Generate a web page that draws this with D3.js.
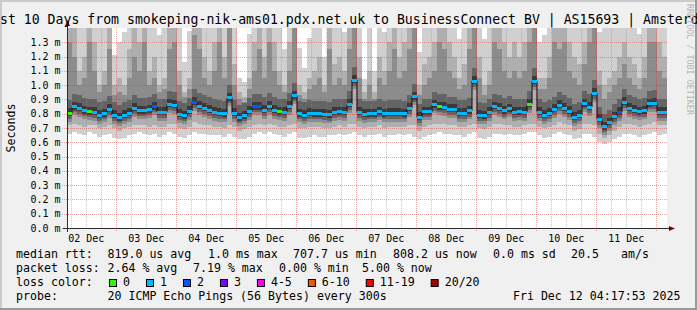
<!DOCTYPE html>
<html>
<head>
<meta charset="utf-8">
<script src="https://cdn.jsdelivr.net/npm/d3@7"></script>
<style>
  body { margin: 0; background: #f0f0f0; }
  svg { display: block; font-family: "DejaVu Sans Mono", monospace; }
</style>
</head>
<body>
<svg id="chart" width="697" height="310"></svg>
<script>
// ---- data, one column every 2 hours ----
const startTime = Date.UTC(2025, 11, 2, 4, 17, 53);
const stepMs = 2 * 3600 * 1000;

// median rtt in ms
const median = [
  0.803, 0.849, 0.838, 0.821, 0.814, 0.810, 0.789, 0.800, 0.833, 0.791,
  0.772, 0.790, 0.805, 0.838, 0.821, 0.821, 0.828, 0.849, 0.810, 0.810,
  0.866, 0.861, 0.796, 0.786, 0.819, 0.880, 0.854, 0.838, 0.824, 0.810,
  0.805, 0.800, 0.912, 0.803, 0.772, 0.786, 0.819, 0.849, 0.849, 0.824,
  0.854, 0.826, 0.814, 0.810, 0.854, 0.926, 0.800, 0.790, 0.805, 0.800,
  0.800, 0.796, 0.792, 0.812, 0.814, 0.810, 0.866, 1.036, 0.810, 0.796,
  0.800, 0.800, 0.814, 0.800, 0.805, 0.805, 0.805, 0.800, 0.840, 0.919,
  0.775, 0.814, 0.814, 0.862, 0.849, 0.845, 0.830, 0.830, 0.805, 0.805,
  0.820, 1.029, 0.790, 0.786, 0.810, 0.850, 0.840, 0.820, 0.835, 0.810,
  0.814, 0.810, 0.866, 1.029, 0.810, 0.791, 0.805, 0.830, 0.859, 0.840,
  0.819, 0.775, 0.790, 0.870, 0.847, 0.943, 0.760, 0.709, 0.738, 0.780,
  0.810, 0.880, 0.838, 0.826, 0.814, 0.820, 0.870, 0.874, 0.810, 0.810
];

// lost pings out of 20
const lost = [
  0, 1, 1, 1, 0, 1, 1, 1, 1, 1,
  1, 1, 1, 1, 1, 1, 1, 2, 1, 1,
  1, 1, 1, 1, 1, 2, 1, 1, 1, 1,
  1, 1, 1, 1, 1, 1, 1, 2, 2, 1,
  1, 1, 0, 1, 1, 1, 1, 1, 1, 1,
  1, 1, 1, 1, 1, 1, 1, 1, 1, 1,
  1, 1, 1, 1, 1, 1, 1, 1, 1, 1,
  1, 1, 1, 1, 0, 1, 1, 1, 1, 1,
  1, 1, 1, 1, 1, 1, 1, 1, 1, 1,
  1, 1, 0, 1, 1, 1, 1, 1, 1, 1,
  1, 1, 1, 1, 1, 1, 1, 1, 1, 1,
  2, 1, 1, 1, 1, 1, 1, 1, 1, 1
];

// smoke: slowest ping (1.5 = above the top of the graph)
const smokeMax = [
  1.50, 1.50, 1.50, 1.50, 1.50, 1.50, 1.50, 1.50, 1.50, 1.21,
  1.30, 1.37, 1.50, 1.50, 1.50, 1.50, 1.50, 1.50, 1.35, 1.50,
  1.50, 1.50, 1.50, 1.16, 1.38, 1.50, 1.50, 1.50, 1.50, 1.50,
  1.50, 1.50, 1.50, 1.50, 1.05, 1.02, 1.36, 1.50, 1.50, 1.50,
  1.50, 1.50, 1.50, 1.25, 1.50, 1.50, 1.26, 1.12, 1.33, 1.50,
  1.50, 1.20, 1.50, 1.50, 1.50, 1.37, 1.50, 1.50, 1.50, 1.04,
  1.50, 1.10, 1.50, 1.37, 1.50, 1.50, 1.50, 1.50, 1.50, 1.50,
  1.23, 1.50, 1.50, 1.50, 1.50, 1.50, 1.50, 1.50, 1.32, 1.50,
  1.50, 1.50, 1.50, 1.32, 1.50, 1.50, 1.50, 1.50, 1.50, 1.50,
  1.50, 1.50, 1.50, 1.50, 1.30, 1.35, 1.50, 1.50, 1.50, 1.50,
  1.50, 1.50, 1.50, 1.50, 1.50, 1.50, 1.37, 1.50, 1.50, 1.50,
  1.50, 1.50, 1.50, 1.50, 1.36, 1.50, 1.50, 1.50, 1.50, 1.50
];
// smoke: upper edge of the medium grey
const smokeHigh = [
  1.45, 1.45, 1.10, 1.20, 1.45, 1.30, 1.00, 1.10, 1.45, 1.00,
  1.05, 1.00, 1.25, 1.45, 1.30, 1.45, 1.10, 1.20, 1.00, 1.05,
  1.45, 1.45, 1.10, 0.95, 1.05, 1.45, 1.45, 1.20, 1.10, 1.30,
  1.45, 1.20, 1.45, 1.15, 0.95, 0.92, 1.05, 1.30, 1.45, 1.20,
  1.45, 1.30, 1.10, 1.00, 1.30, 1.45, 1.00, 0.95, 1.05, 1.10,
  1.20, 1.00, 1.45, 1.15, 1.20, 1.10, 1.45, 1.45, 1.20, 0.95,
  1.10, 0.95, 1.20, 1.10, 1.30, 1.45, 1.20, 1.30, 1.45, 1.45,
  1.00, 1.15, 1.20, 1.30, 1.45, 1.45, 1.30, 1.20, 1.05, 1.15,
  1.45, 1.45, 1.20, 1.00, 1.10, 1.45, 1.45, 1.30, 1.20, 1.30,
  1.20, 1.30, 1.45, 1.45, 1.05, 1.05, 1.20, 1.45, 1.45, 1.45,
  1.30, 1.20, 1.15, 1.30, 1.45, 1.45, 1.10, 1.00, 1.05, 1.10,
  1.20, 1.30, 1.20, 1.15, 1.05, 1.20, 1.45, 1.45, 1.30, 1.20
];
// smoke: upper edge of the dark grey
const smokeMid = [
  1.30, 1.20, 1.00, 1.05, 1.30, 1.10, 0.95, 1.00, 1.25, 0.93,
  0.95, 0.93, 1.05, 1.20, 1.10, 1.30, 1.00, 1.05, 0.95, 0.97,
  1.25, 1.30, 1.00, 0.92, 0.97, 1.35, 1.25, 1.05, 1.00, 1.10,
  1.30, 1.05, 1.45, 1.00, 0.90, 0.88, 0.97, 1.10, 1.25, 1.05,
  1.30, 1.10, 1.00, 0.95, 1.10, 1.45, 0.93, 0.90, 0.97, 1.00,
  1.05, 0.95, 1.25, 1.00, 1.05, 1.00, 1.25, 1.45, 1.05, 0.90,
  1.00, 0.90, 1.05, 1.00, 1.10, 1.25, 1.05, 1.10, 1.25, 1.45,
  0.93, 1.00, 1.05, 1.10, 1.30, 1.25, 1.10, 1.05, 0.97, 1.00,
  1.25, 1.45, 1.05, 0.93, 1.00, 1.30, 1.25, 1.10, 1.05, 1.10,
  1.05, 1.10, 1.30, 1.45, 0.97, 0.97, 1.05, 1.30, 1.25, 1.30,
  1.10, 1.05, 1.00, 1.15, 1.30, 1.45, 1.00, 0.90, 0.95, 1.00,
  1.05, 1.15, 1.05, 1.00, 0.97, 1.05, 1.30, 1.30, 1.10, 1.05
];
// smoke: lower edge of the medium grey
const smokeLow = [
  0.72, 0.73, 0.72, 0.71, 0.72, 0.72, 0.70, 0.71, 0.72, 0.70,
  0.68, 0.70, 0.71, 0.72, 0.72, 0.72, 0.71, 0.72, 0.71, 0.71,
  0.73, 0.73, 0.70, 0.69, 0.71, 0.74, 0.73, 0.72, 0.72, 0.71,
  0.71, 0.70, 0.72, 0.71, 0.68, 0.69, 0.71, 0.72, 0.73, 0.72,
  0.73, 0.72, 0.71, 0.71, 0.72, 0.73, 0.70, 0.70, 0.71, 0.71,
  0.71, 0.70, 0.70, 0.71, 0.72, 0.71, 0.73, 0.73, 0.71, 0.70,
  0.71, 0.71, 0.72, 0.70, 0.71, 0.71, 0.71, 0.71, 0.72, 0.72,
  0.68, 0.71, 0.72, 0.73, 0.73, 0.73, 0.72, 0.72, 0.71, 0.71,
  0.72, 0.73, 0.70, 0.69, 0.71, 0.73, 0.73, 0.72, 0.72, 0.71,
  0.71, 0.72, 0.73, 0.73, 0.71, 0.70, 0.71, 0.72, 0.74, 0.73,
  0.72, 0.68, 0.69, 0.73, 0.73, 0.72, 0.66, 0.63, 0.65, 0.68,
  0.71, 0.73, 0.73, 0.72, 0.71, 0.72, 0.73, 0.74, 0.72, 0.72
];
// smoke: fastest ping
const smokeMin = [
  0.66, 0.67, 0.66, 0.65, 0.67, 0.66, 0.64, 0.65, 0.66, 0.63,
  0.62, 0.63, 0.65, 0.66, 0.67, 0.66, 0.65, 0.66, 0.64, 0.65,
  0.67, 0.66, 0.64, 0.63, 0.65, 0.67, 0.66, 0.66, 0.65, 0.65,
  0.65, 0.64, 0.66, 0.64, 0.62, 0.62, 0.64, 0.66, 0.67, 0.66,
  0.67, 0.66, 0.65, 0.64, 0.66, 0.67, 0.63, 0.63, 0.64, 0.65,
  0.64, 0.64, 0.65, 0.65, 0.66, 0.65, 0.66, 0.67, 0.65, 0.64,
  0.65, 0.65, 0.66, 0.64, 0.65, 0.65, 0.66, 0.65, 0.66, 0.64,
  0.62, 0.64, 0.65, 0.66, 0.67, 0.66, 0.66, 0.65, 0.65, 0.64,
  0.66, 0.67, 0.63, 0.62, 0.64, 0.66, 0.66, 0.65, 0.66, 0.65,
  0.65, 0.66, 0.67, 0.67, 0.65, 0.63, 0.64, 0.66, 0.67, 0.66,
  0.65, 0.62, 0.63, 0.66, 0.66, 0.64, 0.60, 0.59, 0.60, 0.62,
  0.64, 0.66, 0.66, 0.65, 0.64, 0.65, 0.66, 0.67, 0.65, 0.66
];

const yTicks = [0.0, 0.1, 0.2, 0.3, 0.4, 0.5, 0.6, 0.7, 0.8, 0.9, 1.0, 1.1, 1.2, 1.3];

const lossLabels = ["0", "1", "2", "3", "4-5", "6-10", "11-19", "20/20"];
const lossColors = ["#26ff00", "#00b8ff", "#0059ff", "#7e00ff", "#ff00ff", "#ff5500", "#ff0000", "#a00000"];

const title = "Last 10 Days from smokeping-nik-ams01.pdx.net.uk to BusinessConnect BV | AS15693 | Amsterdam";
const legendRows = [
  [[16, "median rtt:"], [107.5, "819.0 us avg"], [208, "1.0 ms max"], [293, "707.7 us min"],
   [393, "808.2 us now"], [493, "0.0 ms sd"], [571, "20.5"], [621, "am/s"]],
  [[16, "packet loss:"], [107.5, "2.64 % avg"], [193, "7.19 % max"], [279, "0.00 % min"], [362, "5.00 % now"]],
  [[16, "loss color:"]],
  [[16, "probe:"], [107.5, "20 ICMP Echo Pings (56 Bytes) every 300s"]]
];
const stamp = "Fri Dec 12 04:17:53 2025";

// ---- layout ----
const width = 697, height = 310;
const plot = { left: 67, right: 667, top: 28, bottom: 228 };

const svg = d3.select("#chart");

const times = median.map((d, i) => new Date(startTime + i * stepMs));

const x = d3.scaleUtc()
  .domain([new Date(startTime), new Date(startTime + 10 * 24 * 3600 * 1000)])
  .range([plot.left, plot.right]);
const y = d3.scaleLinear().domain([0, 1.4]).range([plot.bottom, plot.top]);

// background + 3d frame
svg.append("rect").attr("width", width).attr("height", height).attr("fill", "#f0f0f0");
svg.append("path").attr("fill", "#cbcbcb")
  .attr("d", `M0,0H${width}V2H2V${height}H0Z`);
svg.append("path").attr("fill", "#999999")
  .attr("d", `M${width},${height}H0V${height - 2}H${width - 2}V0H${width}Z`);

// canvas
svg.append("rect")
  .attr("x", plot.left).attr("y", plot.top)
  .attr("width", plot.right - plot.left).attr("height", plot.bottom - plot.top)
  .attr("fill", "#ffffff");

svg.append("clipPath").attr("id", "clip")
  .append("rect")
  .attr("x", plot.left).attr("y", plot.top)
  .attr("width", plot.right - plot.left).attr("height", plot.bottom - plot.top);

const cols = d3.range(median.length);
const colX = i => x(times[i]);
const colW = i => x(new Date(+times[i] + stepMs)) - x(times[i]);

// smoke bands, lightest first
const smoke = svg.append("g").attr("clip-path", "url(#clip)").attr("shape-rendering", "crispEdges");
function band(lo, hi, color) {
  smoke.append("g").selectAll("rect")
    .data(cols)
    .join("rect")
    .attr("x", colX)
    .attr("width", colW)
    .attr("y", i => y(Math.min(hi(i), 1.45)))
    .attr("height", i => Math.max(0, y(lo(i)) - y(Math.min(hi(i), 1.45))))
    .attr("fill", color);
}
band(i => smokeMin[i], i => smokeMax[i], "#d0d0d0");
band(i => smokeLow[i], i => smokeHigh[i], "#afafaf");
band(i => median[i] - 0.06, i => smokeMid[i], "#8c8c8c");
band(i => median[i] - 0.04, i => median[i] + 0.09, "#646464");
band(i => median[i] - 0.02, i => median[i] + 0.035, "#3a3a3a");

// grid (drawn over the smoke like rrdtool)
const grid = svg.append("g").attr("fill", "none");
const minorTimes = x.ticks(d3.utcHour.every(6)).filter(t => t.getUTCHours() !== 0);
const majorTimes = x.ticks(d3.utcDay.every(1));

grid.selectAll(".minor")
  .data(minorTimes)
  .join("line")
  .attr("x1", d => Math.round(x(d)) + 0.5).attr("x2", d => Math.round(x(d)) + 0.5)
  .attr("y1", plot.top).attr("y2", plot.bottom + 2)
  .attr("stroke", "#8f8f8f").attr("stroke-opacity", 0.5)
  .attr("stroke-dasharray", "1,1");

grid.selectAll(".majorx")
  .data(majorTimes)
  .join("line")
  .attr("x1", d => Math.round(x(d)) + 0.5).attr("x2", d => Math.round(x(d)) + 0.5)
  .attr("y1", plot.top).attr("y2", plot.bottom + 3)
  .attr("stroke", "#d02a2a").attr("stroke-opacity", 0.42)
  .attr("stroke-dasharray", "1,1");

grid.selectAll(".majory")
  .data(yTicks)
  .join("line")
  .attr("x1", plot.left - 5).attr("x2", plot.right)
  .attr("y1", d => Math.round(y(d)) + 0.5).attr("y2", d => Math.round(y(d)) + 0.5)
  .attr("stroke", "#d02a2a").attr("stroke-opacity", 0.42)
  .attr("stroke-dasharray", "1,1");

// median line: dark step line, then segments coloured by loss
const pts = cols.map(i => [colX(i), y(median[i])]);
pts.push([plot.right, y(median[median.length - 1])]);
svg.append("path")
  .attr("clip-path", "url(#clip)")
  .attr("d", d3.line().curve(d3.curveStepAfter)(pts))
  .attr("fill", "none").attr("stroke", "#111").attr("stroke-width", 1);

const lossIndex = n => n === 0 ? 0 : n === 1 ? 1 : n === 2 ? 2 : n === 3 ? 3 :
  n <= 5 ? 4 : n <= 10 ? 5 : n <= 19 ? 6 : 7;

svg.append("g").attr("clip-path", "url(#clip)").attr("shape-rendering", "crispEdges")
  .selectAll("rect")
  .data(cols)
  .join("rect")
  .attr("x", colX)
  .attr("width", colW)
  .attr("y", i => y(median[i]) - 1.5)
  .attr("height", 3)
  .attr("fill", i => lossColors[lossIndex(lost[i])]);

// axes
const axisColor = "#2c2c2c";
svg.append("line")
  .attr("x1", plot.left + 0.5).attr("x2", plot.left + 0.5)
  .attr("y1", plot.bottom + 4).attr("y2", plot.top - 4)
  .attr("stroke", axisColor);
svg.append("line")
  .attr("x1", plot.left - 4).attr("x2", plot.right + 4)
  .attr("y1", plot.bottom + 0.5).attr("y2", plot.bottom + 0.5)
  .attr("stroke", axisColor);
svg.append("path").attr("fill", "#800000")
  .attr("d", `M${plot.left - 2},${plot.top - 2}L${plot.left + 3},${plot.top - 2}L${plot.left + 0.5},${plot.top - 8}Z`);
svg.append("path").attr("fill", "#800000")
  .attr("d", `M${plot.right + 2},${plot.bottom - 2}L${plot.right + 2},${plot.bottom + 3}L${plot.right + 8},${plot.bottom + 0.5}Z`);

// y labels
svg.append("g").selectAll("text")
  .data(yTicks)
  .join("text")
  .attr("x", 60.5)
  .attr("y", d => y(d) + 3.5)
  .attr("text-anchor", "end")
  .attr("font-size", "10px")
  .attr("fill", "#000")
  .text(d => d3.format(".1f")(d) + " m");

// x labels at noon
const fmt = d3.utcFormat("%d %b");
svg.append("g").selectAll("text")
  .data(majorTimes.map(d => d3.utcHour.offset(d, -12)).filter(d => x(d) > plot.left))
  .join("text")
  .attr("x", d => x(d))
  .attr("y", 241.5)
  .attr("text-anchor", "middle")
  .attr("font-size", "10px")
  .text(fmt);

// title (wider than the image, clipped at both sides as in the original)
svg.append("text")
  .attr("x", 349.3).attr("y", 23.5)
  .attr("text-anchor", "middle")
  .attr("font-size", "13.2px")
  .text(title);

// y axis title
svg.append("text")
  .attr("transform", "translate(15,128) rotate(-90)")
  .attr("text-anchor", "middle")
  .attr("font-size", "11.6px")
  .text("Seconds");

// watermark
svg.append("text")
  .attr("transform", "translate(686.5,4) rotate(90)")
  .attr("font-size", "8.4px")
  .attr("fill", "#b4b4b4")
  .text("RRDTOOL / TOBI OETIKER");

// legend
const legend = svg.append("g").attr("font-size", "11.6px").attr("fill", "#000");
legendRows.forEach((row, r) => {
  row.forEach(([lx, txt]) => {
    legend.append("text")
      .attr("x", lx).attr("y", 258.3 + r * 14)
      .text(txt);
  });
});

let bx = 109;
lossLabels.forEach((lab, k) => {
  legend.append("rect")
    .attr("x", bx + 0.5).attr("y", 279.5)
    .attr("width", 7).attr("height", 7)
    .attr("fill", lossColors[k]).attr("stroke", "#000");
  legend.append("text")
    .attr("x", bx + 14).attr("y", 286.3)
    .text(lab);
  bx += 14 + lab.length * 6.98 + 16;
});

legend.append("text")
  .attr("x", 680.5).attr("y", 258.3 + 3 * 14)
  .attr("text-anchor", "end")
  .text(stamp);
</script>
</body>
</html>
